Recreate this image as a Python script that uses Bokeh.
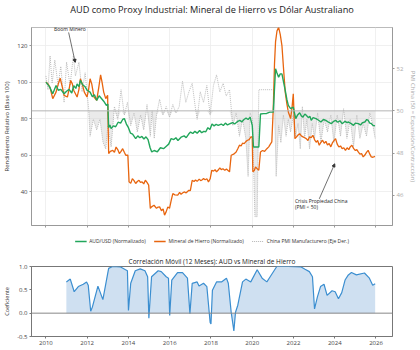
import numpy as np
from bokeh.plotting import figure
from bokeh.models import (Range1d, LinearAxis, FixedTicker, Span, Legend, LegendItem,
                          Label, Arrow, NormalHead, NumeralTickFormatter)
from bokeh.layouts import column
from bokeh.embed import file_html
from bokeh.resources import INLINE

FONT = "Open Sans"

# ---------------- data (decimal years) ----------------
aud_t = [2010.0, 2010.17, 2010.33, 2010.49, 2010.6, 2010.72, 2010.88, 2011.0, 2011.12, 2011.25, 2011.35, 2011.45,
         2011.51, 2011.6, 2011.67, 2011.78, 2011.9, 2012.0, 2012.14, 2012.25, 2012.35, 2012.46, 2012.58, 2012.69,
         2012.8, 2012.93, 2013.0, 2013.04, 2013.1, 2013.16, 2013.27, 2013.38, 2013.5, 2013.62, 2013.72, 2013.8,
         2013.9, 2014.0, 2014.1, 2014.2, 2014.35, 2014.45, 2014.55, 2014.65, 2014.75, 2014.85, 2014.95, 2015.05,
         2015.13, 2015.25, 2015.4, 2015.55, 2015.7, 2015.85, 2015.95, 2016.07, 2016.2, 2016.3, 2016.4, 2016.55,
         2016.7, 2016.8, 2016.92, 2017.01, 2017.12, 2017.22, 2017.33, 2017.45, 2017.55, 2017.65, 2017.75, 2017.85,
         2017.95, 2018.05, 2018.15, 2018.25, 2018.35, 2018.5, 2018.6, 2018.7, 2018.8, 2018.95, 2019.05, 2019.15,
         2019.3, 2019.4, 2019.5, 2019.6, 2019.7, 2019.8, 2019.9, 2020.0, 2020.06, 2020.32, 2020.4, 2020.55,
         2020.7, 2020.85, 2021.02, 2021.13, 2021.2, 2021.28, 2021.36, 2021.44, 2021.52, 2021.6, 2021.68, 2021.75,
         2021.86, 2021.99, 2022.05, 2022.11, 2022.2, 2022.3, 2022.38, 2022.46, 2022.55, 2022.62, 2022.72, 2022.8,
         2022.86, 2022.95, 2023.09, 2023.2, 2023.33, 2023.45, 2023.57, 2023.7, 2023.83, 2023.95, 2024.04, 2024.15,
         2024.25, 2024.36, 2024.5, 2024.6, 2024.67, 2024.8, 2024.91, 2025.0, 2025.14, 2025.25, 2025.35, 2025.46,
         2025.55, 2025.62, 2025.7, 2025.78, 2025.85, 2025.95]
aud_v = [100, 97.5, 93.6, 98.1, 95.5, 96, 93.6, 95, 96, 94, 98, 96.5,
         99, 97.5, 100.9, 98.5, 97.4, 95.5, 94.5, 92, 93, 90, 92.5, 91,
         89.5, 87.2, 88, 75, 76.5, 74.5, 76, 75.5, 78, 77.5, 79.5, 80,
         77, 75, 72, 71.5, 69, 70.5, 69.5, 70.2, 68.8, 70, 68.5, 64,
         61.7, 62.5, 61.8, 64, 63.5, 65, 66, 69, 68.5, 69.5, 68, 69.8,
         70.5, 69.5, 71.5, 72.6, 71.8, 73, 72, 73.5, 72.2, 73, 72.8, 75,
         74, 77, 76, 76.8, 76.3, 77, 76.2, 77.5, 76.5, 77.3, 77.8, 77,
         78.5, 79, 78.2, 79.5, 80.2, 79.5, 80.8, 76.3, 64.4, 64.4, 82.5, 82.7,
         82.8, 83.5, 83.5, 107.3, 105, 102.7, 104.5, 104.5, 100, 95.4, 90.5, 87.2,
         85.4, 86.3, 83, 80, 82, 83.2, 81.5, 80.8, 82.5, 81.8, 80.5, 81.2,
         79, 80.5, 80, 79.2, 78.1, 79.5, 79, 78, 77.2, 78.5, 79, 78,
         78.8, 77.2, 78.5, 77.8, 78.1, 77.2, 76.3, 77.5, 77.2, 76.5, 77.8, 78.1,
         79.5, 79, 77.5, 77.2, 76.3, 76]

ore_t = [2010.0, 2010.1, 2010.2, 2010.33, 2010.49, 2010.6, 2010.69, 2010.8, 2010.88, 2011.04, 2011.12, 2011.2,
         2011.28, 2011.35, 2011.51, 2011.6, 2011.67, 2011.76, 2011.86, 2011.99, 2012.07, 2012.14, 2012.22, 2012.33,
         2012.46, 2012.56, 2012.65, 2012.72, 2012.8, 2012.9, 2012.99, 2013.04, 2013.12, 2013.24, 2013.32, 2013.4,
         2013.48, 2013.56, 2013.64, 2013.72, 2013.8, 2013.87, 2013.97, 2014.03, 2014.11, 2014.19, 2014.27, 2014.35,
         2014.43, 2014.51, 2014.58, 2014.66, 2014.74, 2014.82, 2014.9, 2014.98, 2015.06, 2015.12, 2015.24, 2015.36,
         2015.44, 2015.51, 2015.6, 2015.68, 2015.75, 2015.83, 2015.91, 2015.99, 2016.07, 2016.15, 2016.25, 2016.39,
         2016.48, 2016.55, 2016.62, 2016.7, 2016.8, 2016.93, 2017.0, 2017.09, 2017.18, 2017.25, 2017.33, 2017.43,
         2017.5, 2017.58, 2017.64, 2017.72, 2017.8, 2017.88, 2017.96, 2018.04, 2018.12, 2018.2, 2018.27, 2018.35,
         2018.43, 2018.5, 2018.58, 2018.67, 2018.75, 2018.83, 2018.9, 2018.98, 2019.1, 2019.22, 2019.3, 2019.38,
         2019.46, 2019.53, 2019.61, 2019.7, 2019.77, 2019.85, 2019.93, 2020.0, 2020.03, 2020.1, 2020.16, 2020.24,
         2020.32, 2020.4, 2020.5, 2020.6, 2020.71, 2020.8, 2020.88, 2020.95, 2021.02, 2021.08, 2021.13, 2021.2,
         2021.28, 2021.36, 2021.44, 2021.52, 2021.6, 2021.68, 2021.75, 2021.86, 2021.93, 2021.99, 2022.07, 2022.15,
         2022.22, 2022.3, 2022.38, 2022.46, 2022.54, 2022.62, 2022.7, 2022.78, 2022.86, 2022.94, 2023.02, 2023.1,
         2023.17, 2023.25, 2023.33, 2023.41, 2023.49, 2023.57, 2023.65, 2023.73, 2023.81, 2023.9, 2024.04, 2024.12,
         2024.2, 2024.28, 2024.36, 2024.44, 2024.52, 2024.6, 2024.68, 2024.75, 2024.83, 2024.92, 2025.0, 2025.07,
         2025.14, 2025.22, 2025.3, 2025.38, 2025.46, 2025.54, 2025.62, 2025.7, 2025.77, 2025.85, 2025.95]
ore_v = [100, 99, 97, 90.9, 94.5, 99, 102.1, 97, 92.7, 91.8, 96, 100.9,
         99, 95.4, 91.8, 96, 101.8, 99, 94.5, 91.8, 96, 101.8, 99, 91.8,
         90, 97, 104, 100, 94.5, 90.9, 92.7, 60.8, 62, 62.6, 61.5, 64.4,
         63, 60.8, 62, 63.5, 61.5, 59.9, 60, 45.3, 44.5, 47.1, 46, 44.4,
         45.5, 46.2, 45, 45.3, 44.2, 46.2, 45, 43.5, 30.8, 31.6, 32.5, 30.8,
         31.5, 31.6, 29.5, 30.5, 27.1, 29, 31.6, 30.8, 35, 38.9, 38.2, 38,
         39.5, 38.5, 39.2, 39.8, 39.3, 40.7, 40.5, 46.2, 45.5, 46.3, 45.6, 46.8,
         46, 46.5, 47.1, 46.5, 47, 45.3, 47, 51.7, 51.2, 52, 50.8, 51.8,
         53, 52, 52.5, 51.7, 52.3, 51.5, 50.8, 59.9, 60.5, 61.7, 63.5, 65.4,
         65, 66.5, 66.3, 67.5, 68.1, 68.5, 69.9, 70, 50.8, 51.5, 53.5, 52.5,
         51.7, 61.7, 62.5, 62, 63.5, 64.5, 66, 67.2, 85.4, 110, 122, 128,
         130, 126, 120, 107, 94.5, 88, 83.6, 80, 86, 93.6, 69, 70,
         71, 71.7, 70.5, 70, 69.5, 69, 68, 70, 69.5, 70.8, 68.5, 67,
         68, 65.4, 67, 68.1, 66.5, 67.5, 65.5, 66.3, 64.5, 67, 69, 66,
         64.4, 65, 63.5, 64, 62.6, 64, 63, 64.5, 65.4, 63.5, 62.5, 63,
         61.7, 60.5, 60.8, 59, 60, 61.5, 62.6, 60.5, 59, 58.8, 59.3]

pmi_t = [2010.0, 2010.1, 2010.2, 2010.3, 2010.43, 2010.59, 2010.72, 2010.88, 2011.0, 2011.17, 2011.33, 2011.43,
         2011.6, 2011.75, 2011.9, 2012.07, 2012.14, 2012.3, 2012.46, 2012.62, 2012.77, 2012.9, 2013.0, 2013.16,
         2013.32, 2013.48, 2013.64, 2013.8, 2013.95, 2014.11, 2014.27, 2014.43, 2014.59, 2014.74, 2014.9, 2015.06,
         2015.15, 2015.25, 2015.36, 2015.51, 2015.67, 2015.83, 2015.99, 2016.15, 2016.3, 2016.46, 2016.62, 2016.78,
         2016.93, 2017.09, 2017.25, 2017.33, 2017.48, 2017.64, 2017.8, 2017.96, 2018.12, 2018.27, 2018.43, 2018.59,
         2018.74, 2018.9, 2019.06, 2019.22, 2019.38, 2019.53, 2019.69, 2019.8, 2019.9, 2020.01, 2020.13, 2020.24,
         2020.32, 2021.07, 2021.16, 2021.28, 2021.39, 2021.51, 2021.64, 2021.75, 2021.86, 2021.99, 2022.11, 2022.22,
         2022.33, 2022.43, 2022.54, 2022.65, 2022.78, 2022.91, 2023.02, 2023.17, 2023.33, 2023.49, 2023.65, 2023.81,
         2023.96, 2024.12, 2024.28, 2024.43, 2024.59, 2024.75, 2024.91, 2025.07, 2025.22, 2025.38, 2025.54, 2025.7,
         2025.85, 2025.96]
pmi_v = [51.65, 51.0, 52.6, 51.3, 52.4, 51.2, 52.1, 50.4, 52.3, 51.2, 52.6, 51.65,
         52.3, 50.9, 51.8, 50.1, 48.8, 49.6, 49.1, 49.6, 48.5, 48.2, 49.3, 48.3,
         50.2, 49.6, 51.0, 49.8, 50.4, 49.3, 49.9, 49.0, 49.8, 49.1, 50.3, 48.8,
         50.0, 48.7, 49.8, 50.55, 49.8, 50.2, 49.7, 50.3, 49.9, 50.2, 51.4, 50.4,
         50.9, 51.3, 50.1, 49.6, 50.9, 50.4, 51.2, 49.8, 51.2, 51.7, 50.9, 51.3,
         50.7, 51.0, 49.3, 49.9, 48.8, 49.6, 48.7, 46.9, 49.9, 49.6, 45.0, 45.0,
         51.0, 51.0, 46.9, 49.3, 48.5, 49.8, 48.8, 49.6, 49.0, 49.8, 48.8, 49.4,
         48.2, 50.2, 48.7, 49.6, 48.2, 49.4, 48.7, 49.9, 48.5, 49.6, 49.0, 49.8,
         48.5, 49.8, 48.8, 50.1, 48.7, 49.6, 48.3, 49.8, 48.7, 49.4, 48.8, 49.9,
         49.3, 48.7]

corr_t = [2010.99, 2011.18, 2011.37, 2011.57, 2011.81, 2011.97, 2012.05, 2012.17, 2012.25, 2012.52, 2012.76, 2013.04,
          2013.23, 2013.62, 2013.86, 2013.95, 2014.0, 2014.11, 2014.33, 2014.57, 2014.8, 2014.93, 2014.99, 2015.12,
          2015.44, 2015.59, 2015.83, 2015.94, 2016.0, 2016.1, 2016.38, 2016.62, 2016.86, 2016.98, 2017.09, 2017.33,
          2017.42, 2017.64, 2017.8, 2017.96, 2018.0, 2018.07, 2018.27, 2018.51, 2018.75, 2018.84, 2018.98, 2019.11,
          2019.19, 2019.3, 2019.53, 2019.69, 2019.93, 2020.24, 2020.48, 2020.71, 2020.87, 2021.19, 2021.74, 2022.37,
          2022.56, 2022.77, 2022.92, 2023.02, 2023.16, 2023.31, 2023.48, 2023.63, 2023.87, 2024.02, 2024.18, 2024.34,
          2024.5, 2024.66, 2024.81, 2025.05, 2025.44, 2025.68, 2025.84, 2025.96]
corr_v = [0.67, 0.73, 0.46, 0.57, 0.62, 0.67, 0.6, 0.04, 0.13, 0.58, 0.29, 0.96,
          1.0, 0.99, 0.93, 0.91, 0.06, 0.64, 0.91, 0.95, 0.91, 0.78, -0.11, 0.78,
          0.91, 0.89, 0.78, 0.75, -0.05, 0.71, 0.87, 0.87, 0.75, -0.01, 0.64, 0.67,
          0.58, 0.64, 0.57, -0.2, -0.23, 0.49, 0.67, 0.67, 0.75, 0.64, 0.02, -0.38,
          0.02, 0.17, 0.67, 0.73, 0.67, 0.93, 0.75, 0.67, 0.78, 1.0, 1.0, 0.99,
          0.94, 0.89, 0.78, 0.09, 0.35, 0.57, 0.62, 0.38, 0.48, 0.46, 0.31, 0.44,
          0.71, 0.82, 0.87, 0.82, 0.86, 0.75, 0.6, 0.63]

year_ticks = [2010, 2012, 2014, 2016, 2018, 2020, 2022, 2024, 2026]
left_ticks = [40, 60, 80, 100, 120]
right_ticks = [46, 48, 50, 52, 54]
corr_ticks = [-0.5, 0.0, 0.5, 1.0]
PMI_THRESHOLD = 50
main_title = "AUD como Proxy Industrial: Mineral de Hierro vs Dólar Australiano"
legend_labels = ["AUD/USD (Normalizado)", "Mineral de Hierro (Normalizado)",
                 "China PMI Manufacturero (Eje Der.)"]

# annotation anchors (data coords)
boom_text = (2010.39, 129.2)
boom_arrow = (2011.1, 127.2, 2011.42, 110.8)
crisis_text = (2022.07, 34.6, 31.3)
crisis_arrow = (2023.25, 36.0, 2024.0, 55.2)

GREEN = "#22a65b"
ORANGE = "#e8650f"
PMI_COL = "#b4b4b4"
BLUE = "#3b8ed0"


def style_axis(ax, color="#999999", lab_size="6px", title_size="6px"):
    ax.axis_line_color = color
    ax.major_tick_line_color = color
    ax.major_tick_out = 2
    ax.major_tick_in = 0
    ax.minor_tick_line_color = None
    ax.major_label_text_font = FONT
    ax.major_label_text_font_size = lab_size
    ax.major_label_text_color = "#444444"
    ax.major_label_standoff = 2
    ax.axis_label_text_font = FONT
    ax.axis_label_text_font_size = title_size
    ax.axis_label_text_font_style = "normal"
    ax.axis_label_text_color = "#333333"
    ax.axis_label_standoff = 3


def strip(height):
    s = figure(width=420, height=height, output_backend="svg", toolbar_location=None, title=None,
               x_range=Range1d(0, 1), y_range=Range1d(0, 1), x_axis_location=None, y_axis_location=None,
               min_border_left=27, min_border_right=23, min_border_top=0, min_border_bottom=0)
    s.outline_line_color = None
    s.grid.visible = False
    return s


# ---------------- title strip ----------------
pt = strip(22)
pt.add_layout(Label(x=0.5, y=0.59, text=main_title, text_align="center", text_baseline="middle",
                    text_font=FONT, text_font_size="9.2px", text_color="#222222"))

# ---------------- top figure ----------------
p = figure(width=420, height=210, output_backend="svg", toolbar_location=None, title=None,
           x_range=Range1d(2009.3, 2026.8), y_range=Range1d(21.4, 129.9),
           min_border_left=27, min_border_right=23, min_border_top=5, min_border_bottom=7)
p.extra_y_ranges = {"pmi": Range1d(44.58, 53.94)}
p.outline_line_color = "#bbbbbb"

pmi_arr = np.array(pmi_v)
p.varea(x=pmi_t, y1=np.minimum(pmi_arr, PMI_THRESHOLD), y2=PMI_THRESHOLD, y_range_name="pmi",
        fill_color="#d0d0d0", fill_alpha=0.45)
p.add_layout(Span(location=PMI_THRESHOLD, dimension="width", y_range_name="pmi",
                  line_color="#b5b5b5", line_width=1))
p.line(pmi_t, pmi_v, y_range_name="pmi", line_color=PMI_COL, line_width=0.9, line_dash="1 1")
p.line(ore_t, ore_v, line_color=ORANGE, line_width=1.3)
p.line(aud_t, aud_v, line_color=GREEN, line_width=1.4)

p.xaxis.ticker = FixedTicker(ticks=year_ticks)
p.yaxis.ticker = FixedTicker(ticks=left_ticks)
p.yaxis.axis_label = "Rendimiento Relativo (Base 100)"
right = LinearAxis(y_range_name="pmi", ticker=FixedTicker(ticks=right_ticks),
                   axis_label="PMI China (50 = Expansión/Contracción)")
p.add_layout(right, "right")
for ax in [p.xaxis[0], p.yaxis[0], right]:
    style_axis(ax)
p.xaxis.major_label_text_font_size = "1px"
p.xaxis.major_label_text_alpha = 0
p.xaxis.major_label_standoff = 0
right.major_label_text_color = "#aaaaaa"
right.axis_label_text_color = "#aaaaaa"

p.xgrid.ticker = FixedTicker(ticks=year_ticks)
p.grid.grid_line_color = "#ececec"
p.grid.grid_line_width = 0.8

p.add_layout(Label(x=boom_text[0], y=boom_text[1], text="Boom Minero", text_font=FONT,
                   text_font_size="5px", text_baseline="middle", text_color="#222222"))
p.add_layout(Arrow(end=NormalHead(size=3, fill_color="#333333", line_color="#333333"),
                   x_start=boom_arrow[0], y_start=boom_arrow[1], x_end=boom_arrow[2], y_end=boom_arrow[3],
                   line_color="#333333", line_width=0.7))
p.add_layout(Label(x=crisis_text[0], y=crisis_text[1], text="Crisis Propiedad China", text_font=FONT,
                   text_font_size="5px", text_baseline="middle", text_color="#222222"))
p.add_layout(Label(x=crisis_text[0], y=crisis_text[2], text="(PMI < 50)", text_font=FONT,
                   text_font_size="5px", text_baseline="middle", text_color="#222222"))
p.add_layout(Arrow(end=NormalHead(size=3, fill_color="#333333", line_color="#333333"),
                   x_start=crisis_arrow[0], y_start=crisis_arrow[1], x_end=crisis_arrow[2], y_end=crisis_arrow[3],
                   line_color="#333333", line_width=0.7))

# ---------------- legend strip ----------------
pl = strip(18)
nan_pt = [np.nan]
g1 = pl.line(x=nan_pt, y=nan_pt, line_color=GREEN, line_width=1.4)
g2 = pl.line(x=nan_pt, y=nan_pt, line_color=ORANGE, line_width=1.3)
g3 = pl.line(x=nan_pt, y=nan_pt, line_color=PMI_COL, line_width=1, line_dash="1 1")
legend = Legend(items=[LegendItem(label=legend_labels[0], renderers=[g1]),
                       LegendItem(label=legend_labels[1], renderers=[g2]),
                       LegendItem(label=legend_labels[2], renderers=[g3])],
                orientation="horizontal", location="center",
                label_text_font=FONT, label_text_font_size="5px", label_text_color="#333333",
                glyph_width=12, glyph_height=6, label_height=6, label_standoff=3, spacing=8,
                padding=0, margin=0, border_line_alpha=0, background_fill_alpha=0)
pl.add_layout(legend)

# ---------------- bottom figure ----------------
p2 = figure(width=420, height=100, output_backend="svg", toolbar_location=None,
            x_range=Range1d(2009.3, 2026.8), y_range=Range1d(-0.5, 1.0),
            min_border_left=27, min_border_right=23, min_border_top=16, min_border_bottom=14)
p2.title.text = "Correlación Móvil (12 Meses): AUD vs Mineral de Hierro"
p2.title.align = "center"
p2.title.text_font = FONT
p2.title.text_font_size = "6.5px"
p2.title.text_font_style = "normal"
p2.title.text_color = "#222222"
p2.title.standoff = 2
p2.outline_line_color = "#777777"
p2.grid.visible = False

p2.varea(x=corr_t, y1=0, y2=corr_v, fill_color="#cfe0f1", fill_alpha=1)
p2.add_layout(Span(location=0, dimension="width", line_color="#888888", line_width=1))
p2.line(corr_t, corr_v, line_color=BLUE, line_width=1.2)

p2.xaxis.ticker = FixedTicker(ticks=year_ticks)
p2.yaxis.ticker = FixedTicker(ticks=corr_ticks)
p2.yaxis.formatter = NumeralTickFormatter(format="0.0")
p2.yaxis.axis_label = "Coeficiente"
for ax in [p2.xaxis[0], p2.yaxis[0]]:
    style_axis(ax, color="#777777", title_size="5.5px")

layout = column(pt, p, pl, p2)
open("out.html", "w").write(file_html(layout, INLINE))
